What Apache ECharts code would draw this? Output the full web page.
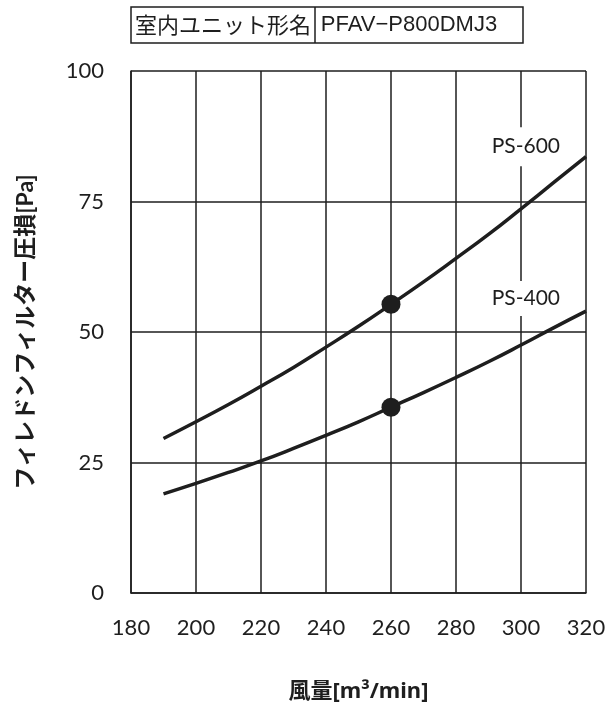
<!DOCTYPE html>
<html><head><meta charset="utf-8">
<script src="https://cdn.jsdelivr.net/npm/echarts@6/dist/echarts.min.js"></script>
<style>html,body{margin:0;padding:0;background:#fff}#c{width:613px;height:711px}</style>
</head><body><div id="c"></div>
<script>
const airflow = [190,200,210,220,230,240,250,260,270,280,290,300,310,320];
const ps600 = [29.6,32.8,36.1,39.6,43.2,47.1,51.1,55.3,59.6,64.1,68.7,73.6,78.6,83.6];
const ps400 = [19.0,21.0,23.1,25.3,27.7,30.2,32.8,35.6,38.4,41.3,44.3,47.5,50.8,54.0];
const ratedPoints = [[260,55.3],[260,35.6]];
const seriesLabels = [{name:'PS-600', coord:[301.5,85.5]},{name:'PS-400', coord:[301.5,56.4]}];
const xTicks = {min:180, max:320, interval:20};
const yTicks = {min:0, max:100, interval:25};
const titleLeft = '室内ユニット形名';
const titleRight = 'PFAV\u2212P800DMJ3';

const ink = '#1e1e1e';
const chart = echarts.init(document.getElementById('c'));
const gridLine = {show:true, lineStyle:{color:ink, width:1.5}};
chart.setOption({
  animation:false,
  grid:{left:131, right:27, top:71, bottom:118},
  xAxis:{type:'value', min:xTicks.min, max:xTicks.max, interval:xTicks.interval,
    name:'風量[m³/min]', nameLocation:'middle', nameGap:88,
    nameTextStyle:{fontFamily:'"Noto Sans", "Noto Sans CJK JP"', fontWeight:'bold', fontSize:22, color:ink},
    axisLine:{show:true, lineStyle:{color:ink, width:1.5}}, axisTick:{show:false},
    axisLabel:{margin:24, fontFamily:'Lato', fontSize:22, color:ink},
    splitLine:gridLine},
  yAxis:{type:'value', min:yTicks.min, max:yTicks.max, interval:yTicks.interval,
    name:'フィレドンフィルター圧損[Pa]', nameLocation:'middle', nameGap:94,
    nameTextStyle:{fontFamily:'Lato, "Noto Sans CJK JP"', fontWeight:'bold', fontSize:23, color:ink},
    axisLine:{show:true, lineStyle:{color:ink, width:1.5}}, axisTick:{show:false},
    axisLabel:{margin:27, fontFamily:'Lato', fontSize:22, color:ink},
    splitLine:gridLine},
  series:[
    {type:'line', data:airflow.map((x,i)=>[x,ps600[i]]), smooth:true, showSymbol:false,
      lineStyle:{color:ink, width:3.5}, z:3,
      markPoint:{symbol:'rect', symbolSize:1, itemStyle:{color:'rgba(0,0,0,0)'},
        label:{show:true, formatter:seriesLabels[0].name, fontFamily:'Lato', fontSize:21, color:ink,
          backgroundColor:'#fff', padding:[9,4]},
        data:[{coord:seriesLabels[0].coord}]}},
    {type:'line', data:airflow.map((x,i)=>[x,ps400[i]]), smooth:true, showSymbol:false,
      lineStyle:{color:ink, width:3.5}, z:3,
      markPoint:{symbol:'rect', symbolSize:1, itemStyle:{color:'rgba(0,0,0,0)'},
        label:{show:true, formatter:seriesLabels[1].name, fontFamily:'Lato', fontSize:21, color:ink,
          backgroundColor:'#fff', padding:[7,4]},
        data:[{coord:seriesLabels[1].coord}]}},
    {type:'scatter', data:ratedPoints, symbolSize:19, itemStyle:{color:ink, opacity:1}, z:4}
  ],
  graphic:[
    {type:'rect', shape:{x:131, y:7, width:392, height:36}, style:{fill:'#fff', stroke:ink, lineWidth:1.5}},
    {type:'line', shape:{x1:315, y1:7, x2:315, y2:43}, style:{stroke:ink, lineWidth:1.5}},
    {type:'text', x:223, y:25, style:{text:titleLeft, font:'22px "Noto Sans CJK JP"', fill:ink, align:'center', verticalAlign:'middle'}},
    {type:'text', x:409, y:25, style:{text:titleRight, font:'22px "Liberation Sans"', fill:ink, align:'center', verticalAlign:'middle'}}
  ]
});
</script></body></html>
